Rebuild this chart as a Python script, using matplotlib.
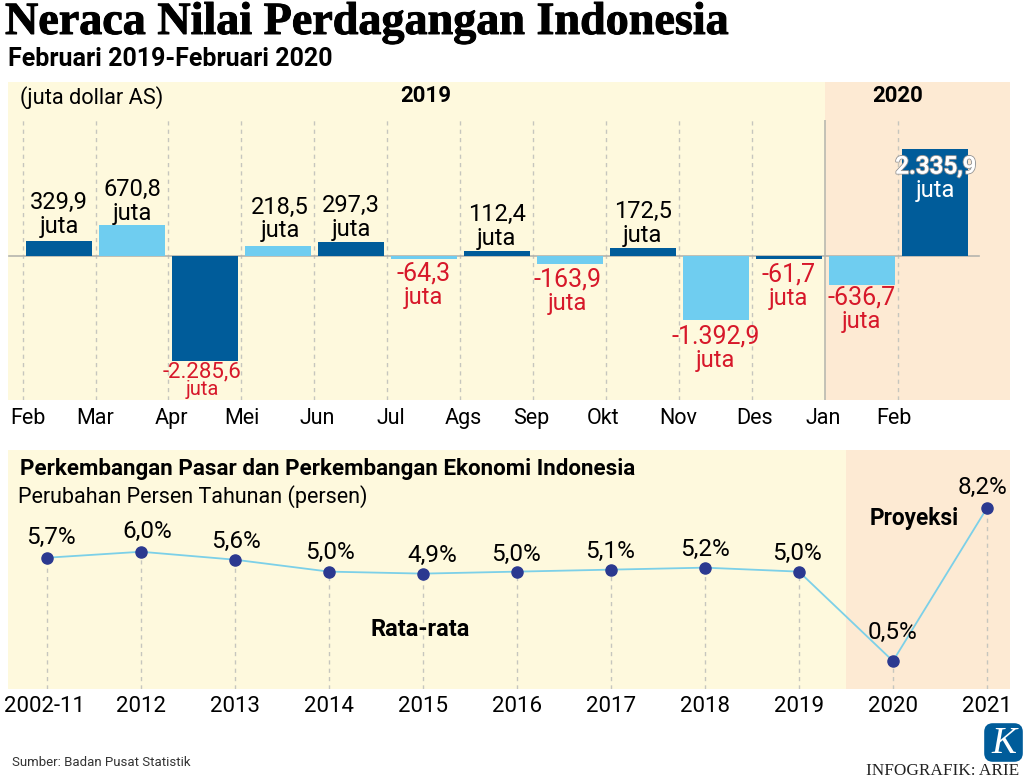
import matplotlib
matplotlib.use('Agg')
import matplotlib.pyplot as plt
import matplotlib.patheffects as pe
from matplotlib.patches import FancyBboxPatch
from matplotlib.transforms import ScaledTranslation

plt.rcParams['font.family'] = ['Roboto', 'DejaVu Sans']

W, H = 1024, 782

# neraca perdagangan, juta dollar AS
months = ['Feb', 'Mar', 'Apr', 'Mei', 'Jun', 'Jul', 'Ags', 'Sep', 'Okt', 'Nov', 'Des', 'Jan', 'Feb']
trade = [329.9, 670.8, -2285.6, 218.5, 297.3, -64.3, 112.4, -163.9, 172.5, -1392.9, -61.7, -636.7, 2335.9]
trade_labels = ['329,9', '670,8', '-2.285,6', '218,5', '297,3', '-64,3', '112,4',
                '-163,9', '172,5', '-1.392,9', '-61,7', '-636,7', '2.335,9']
label_gap = [38, 36, 11, 39, 37, 15, 36, 16, 37, 17, 16, 12, -18]
label_dx = [0, 0, -3, 2, 0, 0, 0, -2, 0, 0, 0, 0, 1]
month_dx = [5, 0, 3, 0, 3, 3, 3, -2, -3, -1, 2, -2, -4]

# pertumbuhan ekonomi, persen
years = ['2002-11', '2012', '2013', '2014', '2015', '2016', '2017', '2018', '2019', '2020', '2021']
growth = [5.7, 6.0, 5.6, 5.0, 4.9, 5.0, 5.1, 5.2, 5.0, 0.5, 8.2]
growth_labels = ['5,7%', '6,0%', '5,6%', '5,0%', '4,9%', '5,0%', '5,1%', '5,2%', '5,0%', '0,5%', '8,2%']
growth_dx = [4, 6, 1, 1, 9, -1, -1, 0, -2, 0, -4]
growth_gap = [20, 20, 18, 19, 18, 17, 18, 18, 18, 29, 21]

YELLOW = '#FEF9DD'
PEACH = '#FDEAD3'
DARK = '#005C9A'
LIGHT = '#6FCDF0'
RED = '#D7182A'
GREY = '#C6C6BE'


def px_axes(left, top, right, bottom):
    return fig.add_axes([left / W, 1 - bottom / H, (right - left) / W, (bottom - top) / H])


def px_text(x, y, s, **kw):
    kw.setdefault('va', 'center')
    return fig.text(x / W, 1 - y / H, s, **kw)


fig = plt.figure(figsize=(W / 100, H / 100), dpi=100)

# grafik atas
ax = px_axes(8, 82, 1010, 400)
ax.set_xlim(-0.699, 13.03)
ax.set_ylim(-3144, 3799)
ax.axvspan(-0.699, 10.5, color=YELLOW, lw=0, zorder=0)
ax.axvspan(10.5, 13.03, color=PEACH, lw=0, zorder=0)

xs = list(range(len(trade)))
ax.vlines([x - 0.5 for x in xs if x != 11], -3144, 2970, color=GREY, lw=1, ls=(0, (3, 3)), zorder=1)
ax.vlines(10.5, -3144, 2970, color='#B9B9B0', lw=1.2, zorder=1)
ax.plot([-0.69, 12.6], [0, 0], color='#B5B5AE', lw=1.2, zorder=1)

colors = [DARK if i % 2 == 0 else LIGHT for i in xs]
ax.bar(xs, trade, width=0.9, color=colors, zorder=2)

for x, v, lab, gap, dx in zip(xs, trade, trade_labels, label_gap, label_dx):
    sign = 1 if v > 0 else -1
    if gap < 0:
        # label di dalam batang
        t = ax.annotate(lab, (x, v), xytext=(dx, gap), textcoords='offset pixels', ha='center', va='center',
                        fontsize=17.5, color='white', fontweight='medium', zorder=4)
        t.set_path_effects([pe.withStroke(linewidth=1.5, foreground='#9A9A9A'), pe.Normal()])
        ax.annotate('juta', (x, v), xytext=(dx, gap - 23), textcoords='offset pixels', ha='center', va='center',
                    fontsize=17, color='white', zorder=4)
    else:
        col = 'black' if v > 0 else RED
        small = lab == '-2.285,6'
        size = 16 if small else (17 if v > 0 else 18)
        step = 18 if small else 24
        ax.annotate(lab, (x, v), xytext=(dx, sign * gap), textcoords='offset pixels', ha='center', va='center',
                    fontsize=size, color=col, zorder=4)
        ax.annotate('juta', (x, v), xytext=(dx, sign * gap - step), textcoords='offset pixels', ha='center',
                    va='center', fontsize=14.5 if small else 17, color=col, zorder=4)

ax.set_xticks([x - 0.5 for x in xs])
ax.set_xticklabels(months, fontsize=15.5)
ax.tick_params(axis='x', length=0, pad=6)
ax.set_yticks([])
for lab, dx in zip(ax.get_xticklabels(), month_dx):
    lab.set_transform(lab.get_transform() + ScaledTranslation(dx / 100, 0, fig.dpi_scale_trans))
for s in ax.spines.values():
    s.set_visible(False)

# grafik bawah
ax2 = px_axes(8, 450, 1010, 689)
ax2.set_xlim(-0.415, 10.245)
ax2.set_ylim(-0.906, 11.12)
ax2.axvspan(-0.415, 8.5, color=YELLOW, lw=0, zorder=0)
ax2.axvspan(8.5, 10.245, color=PEACH, lw=0, zorder=0)

xs2 = list(range(len(growth)))
ax2.vlines(xs2, -0.906, growth, color=GREY, lw=1, ls=(0, (3, 3)), zorder=1)
ax2.plot(xs2, growth, color='#7CD0E8', lw=1.3, zorder=2)
ax2.plot(xs2, growth, ls='none', marker='o', ms=8, color='#2B3990', zorder=3)

for x, v, lab, dx, gap in zip(xs2, growth, growth_labels, growth_dx, growth_gap):
    ax2.annotate(lab, (x, v), xytext=(dx, gap), textcoords='offset pixels', ha='center', va='center',
                 fontsize=17.5, zorder=4)

ax2.set_xticks(xs2)
ax2.set_xticklabels(years, fontsize=16)
ax2.tick_params(axis='x', length=0, pad=5)
ax2.set_yticks([])
ax2.get_xticklabels()[0].set_transform(ax2.get_xticklabels()[0].get_transform()
                                       + ScaledTranslation(-0.03, 0, fig.dpi_scale_trans))
for s in ax2.spines.values():
    s.set_visible(False)

# teks
title = px_text(5, 23, 'Neraca Nilai Perdagangan Indonesia', family='Liberation Serif', fontweight='bold', fontsize=33.2)
title.set_path_effects([pe.withStroke(linewidth=0.7, foreground='black')])
px_text(8, 59, 'Februari 2019-Februari 2020', fontweight='bold', fontsize=18)
px_text(20, 98, '(juta dollar AS)', fontsize=15.7)
px_text(426, 96, '2019', fontweight='bold', fontsize=16, ha='center')
px_text(898, 96, '2020', fontweight='bold', fontsize=16, ha='center')
px_text(20, 469, 'Perkembangan Pasar dan Perkembangan Ekonomi Indonesia', fontweight='bold', fontsize=16.1)
px_text(18, 497, 'Perubahan Persen Tahunan (persen)', fontsize=15.5)
px_text(420, 630, 'Rata-rata', fontweight='bold', fontsize=17, ha='center')
px_text(914, 518, 'Proyeksi', fontweight='bold', fontsize=16.3, ha='center')
px_text(12, 762, 'Sumber: Badan Pusat Statistik', fontsize=9.5, color='#333333')
px_text(866, 771, 'INFOGRAFIK: ARIE', family='Liberation Serif', fontsize=12.4, color='#222222')

# logo
logo = px_axes(983, 722, 1024, 763)
logo.set_xlim(0, 1)
logo.set_ylim(0, 1)
logo.axis('off')
logo.add_patch(FancyBboxPatch((0.08, 0.08), 0.84, 0.84, boxstyle='round,pad=0,rounding_size=0.16', fc=DARK, ec=DARK, lw=3))
logo.text(0.5, 0.47, 'K', family='Liberation Serif', style='italic', color='white', fontsize=27, ha='center', va='center')

fig.savefig('out.png', dpi=100, facecolor='white')
